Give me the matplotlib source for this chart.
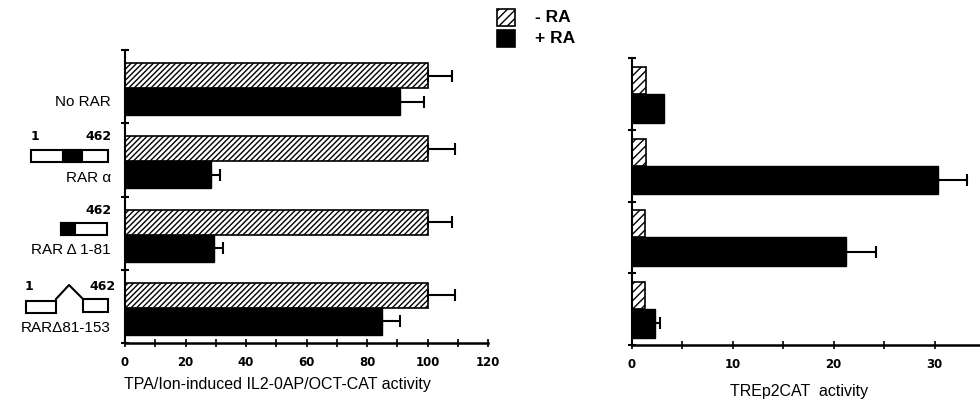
import numpy as np
import matplotlib
matplotlib.use('Agg')
import matplotlib.pyplot as plt
from matplotlib.patches import Rectangle

constructs = ['No RAR', 'RAR \u03b1', 'RAR \u0394 1-81', 'RAR\u039481-153']
legend_labels = ['- RA', '+ RA']

# left panel: TPA/Ion-induced IL2-0AP/OCT-CAT activity
oct_minus = [100, 100, 100, 100]
oct_minus_err = [8, 9, 8, 9]
oct_plus = [91, 28.5, 29.5, 85]
oct_plus_err = [8, 3, 3, 6]

# right panel: TREp2CAT activity
tre_minus = [1.4, 1.4, 1.3, 1.3]
tre_minus_err = [0, 0, 0, 0]
tre_plus = [3.2, 30.3, 21.2, 2.3]
tre_plus_err = [0, 2.9, 3.0, 0.5]

plt.rcParams['font.family'] = ['Liberation Sans', 'DejaVu Sans']
plt.rcParams['hatch.linewidth'] = 1.0

fig = plt.figure(figsize=(9.8, 4.0), dpi=100)
ax1 = fig.add_axes([125/980, 57/400, 363/980, 293/400])
ax2 = fig.add_axes([632/980, 55/400, 348/980, 287/400])

y = np.arange(len(constructs))


def one_sided_err(ax, vals, errs, pos, cap):
    vals = np.array(vals)
    errs = np.array(errs)
    m = errs > 0
    if m.any():
        ax.errorbar(vals[m], pos[m], xerr=[np.zeros(m.sum()), errs[m]],
                    fmt='none', ecolor='black', elinewidth=1.5,
                    capsize=cap, capthick=1.5)


def panel(ax, minus, minus_err, plus, plus_err, h0, h1, b1, hatch):
    pm = y + (h0 + h1) / 2
    pp = y + (h1 + b1) / 2
    ax.barh(pm, minus, height=h1 - h0, color='white',
            edgecolor='black', hatch=hatch, linewidth=1.2)
    ax.barh(pp, plus, height=b1 - h1, color='black',
            edgecolor='black', linewidth=1.0)
    one_sided_err(ax, minus, minus_err, pm, 4.5)
    one_sided_err(ax, plus, plus_err, pp, 4.5)
    ax.set_ylim(len(constructs), 0)
    ax.set_yticks(np.arange(len(constructs) + 1))
    ax.set_yticklabels([])
    ax.spines['top'].set_visible(False)
    ax.spines['right'].set_visible(False)
    ax.spines['left'].set_linewidth(1.5)
    ax.spines['bottom'].set_linewidth(1.8)
    ax.tick_params(axis='y', direction='inout', length=6, width=1.5)
    ax.tick_params(axis='x', which='both', direction='inout', length=6,
                   width=1.2, labelsize=8.5, pad=6)


panel(ax1, oct_minus, oct_minus_err, oct_plus, oct_plus_err, 0.18, 0.52, 0.89, '//////')
ax1.set_xlim(0, 120)
ax1.set_xticks(np.arange(0, 121, 20))
ax1.set_xticks(np.arange(0, 121, 10), minor=True)
ax1.set_xlabel('TPA/Ion-induced IL2-0AP/OCT-CAT activity', fontsize=11.5)
ax1.xaxis.set_label_coords(0.42, -0.115)

panel(ax2, tre_minus, tre_minus_err, tre_plus, tre_plus_err, 0.125, 0.5, 0.9, '////')
ax2.set_xlim(0, 34.5)
ax2.set_xticks([0, 10, 20, 30])
ax2.set_xticks(np.arange(0, 35, 5), minor=True)
ax2.set_xlabel('TREp2CAT  activity', fontsize=11.5)
ax2.xaxis.set_label_coords(0.48, -0.135)

for ax in (ax1, ax2):
    for t in ax.get_xticklabels():
        t.set_fontweight('bold')
        t.set_family('DejaVu Sans')

# overlay in figure pixel space: legend, construct labels, domain diagrams
ov = fig.add_axes([0, 0, 1, 1], zorder=-1)
ov.set_xlim(0, 980)
ov.set_ylim(400, 0)
ov.axis('off')

ov.add_patch(Rectangle((497, 9), 18, 17, facecolor='white', edgecolor='black',
                       hatch='////', lw=1.2))
ov.add_patch(Rectangle((497, 30), 18, 17, facecolor='black', edgecolor='black', lw=1.2))
ov.text(535, 17.5, legend_labels[0], ha='left', va='center', fontsize=12.5, fontweight='bold')
ov.text(535, 38.5, legend_labels[1], ha='left', va='center', fontsize=12.5, fontweight='bold')

lab_y = [102, 178, 250, 328]
for name, yy in zip(constructs, lab_y):
    ov.text(111, yy, name, ha='right', va='center', fontsize=11)

num_kw = dict(fontsize=9, fontweight='bold', va='center', family='DejaVu Sans')
# RAR alpha
ov.text(31, 137, '1', ha='left', **num_kw)
ov.text(112, 137, '462', ha='right', **num_kw)
ov.add_patch(Rectangle((31, 150), 77, 12, facecolor='white', edgecolor='black', lw=1.5))
ov.add_patch(Rectangle((63, 150), 19, 12, facecolor='black', edgecolor='black', lw=1.5))
# RAR delta 1-81
ov.text(112, 210, '462', ha='right', **num_kw)
ov.add_patch(Rectangle((61, 223), 46, 12, facecolor='white', edgecolor='black', lw=1.5))
ov.add_patch(Rectangle((61, 223), 14, 12, facecolor='black', edgecolor='black', lw=1.5))
# RAR delta 81-153
ov.text(25, 287, '1', ha='left', **num_kw)
ov.text(116, 287, '462', ha='right', **num_kw)
ov.add_patch(Rectangle((26, 301), 30, 12, facecolor='white', edgecolor='black', lw=1.5))
ov.add_patch(Rectangle((83, 299), 25, 13, facecolor='white', edgecolor='black', lw=1.5))
ov.plot([56, 69, 83], [299, 285, 299], color='black', lw=1.5)

fig.savefig('out.png', dpi=100)
